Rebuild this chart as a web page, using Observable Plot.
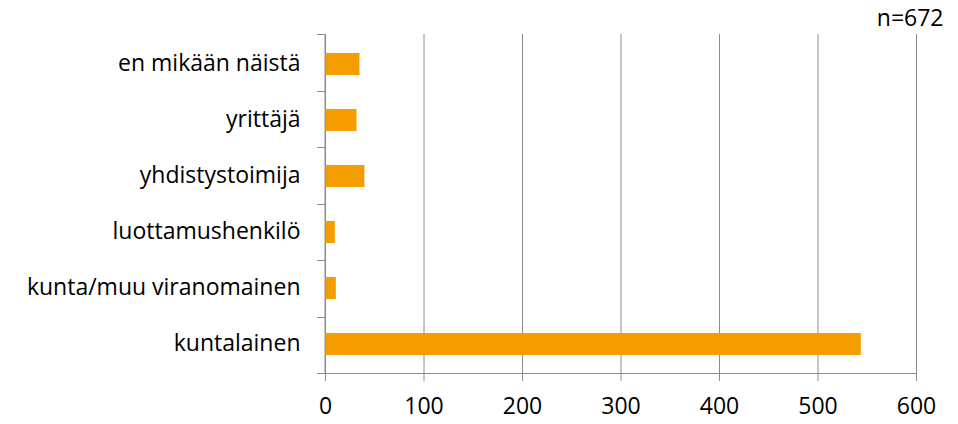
<!DOCTYPE html>
<html>
<head>
<meta charset="utf-8">
<script src="https://cdn.jsdelivr.net/npm/d3@7"></script>
<script src="https://cdn.jsdelivr.net/npm/@observablehq/plot@0.6"></script>
<style>
  body { margin: 0; background: #fff; }
  #chart svg { display: block; }
</style>
</head>
<body>
<div id="chart"></div>
<script>
const categories = ["en mikään näistä", "yrittäjä", "yhdistystoimija", "luottamushenkilö", "kunta/muu viranomainen", "kuntalainen"];
const counts = [35, 32, 40, 10, 11, 544];
const xTicks = [0, 100, 200, 300, 400, 500, 600];
const sampleLabel = "n=672";

const data = categories.map((c, i) => ({category: c, count: counts[i]}));
const axisColor = "#8c8c8c";

// category-boundary ticks on the y axis plus the two axis lines
const axisFrame = (index, scales, values, dims) => {
  const top = dims.marginTop;
  const bottom = dims.height - dims.marginBottom;
  const left = dims.marginLeft;
  const right = dims.width - dims.marginRight;
  const n = categories.length;
  const step = (bottom - top) / n;
  const g = d3.create("svg:g").attr("stroke", axisColor).attr("stroke-width", 1).attr("fill", "none");
  for (let i = 0; i <= n; i++) {
    const yy = Math.round(top + i * step) + 0.5;
    g.append("line").attr("x1", left - 8).attr("x2", left).attr("y1", yy).attr("y2", yy);
  }
  g.append("line").attr("x1", left).attr("x2", right).attr("y1", bottom + 0.5).attr("y2", bottom + 0.5);
  g.append("line").attr("x1", left).attr("x2", left).attr("y1", top).attr("y2", bottom);
  return g.node();
};

const chart = Plot.plot({
  width: 958,
  height: 424,
  marginLeft: 325,
  marginRight: 42,
  marginTop: 34,
  marginBottom: 51,
  style: {fontFamily: "Open Sans", fontSize: "23px", color: "#000", background: "#fff"},
  x: {domain: [0, 600], ticks: xTicks},
  y: {domain: categories, paddingInner: 0.61, paddingOuter: 0.305},
  marks: [
    Plot.gridX(xTicks, {stroke: axisColor, strokeOpacity: 1, strokeWidth: 1}),
    Plot.axisX(xTicks, {tickSize: 8, tickPadding: 16, stroke: axisColor, strokeOpacity: 1, label: null, fontSize: 23, fill: "#000"}),
    Plot.axisY({tickSize: 0, tickPadding: 25, label: null, fontSize: 23, fill: "#000", dy: -1}),
    Plot.barX(data, {x: "count", y: "category", fill: "#f59d00"}),
    axisFrame,
    Plot.text([sampleLabel], {frameAnchor: "top-right", dx: 27, dy: -9, lineAnchor: "bottom", textAnchor: "end", fontSize: 23, fill: "#000"})
  ]
});
document.getElementById("chart").appendChild(chart);
</script>
</body>
</html>
